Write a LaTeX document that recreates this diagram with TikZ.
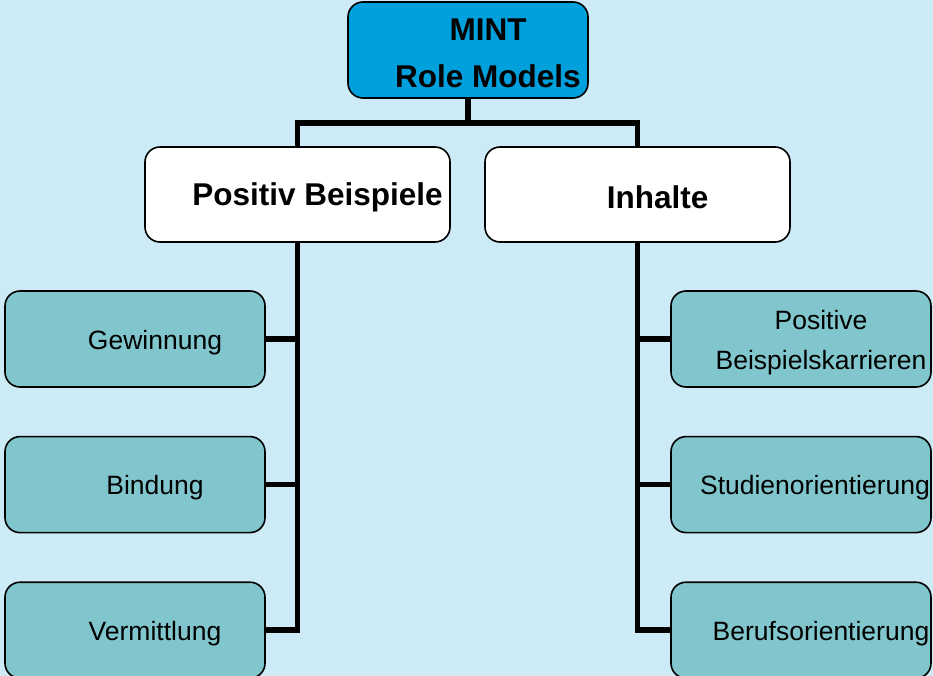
\documentclass[tikz,border=0pt]{standalone}
\usepackage{fontspec}
\setmainfont{Liberation Sans}
\usetikzlibrary{positioning}
\definecolor{skyback}{HTML}{CCEBF6}
\definecolor{mintblue}{HTML}{00A0DC}
\definecolor{leafteal}{HTML}{80C6CC}
\tikzset{
  box/.style={draw=black, line width=1.6pt, rounded corners=15pt, inner sep=0pt},
  rootbox/.style={box, fill=mintblue, minimum width=240pt, minimum height=96pt},
  midbox/.style={box, fill=white, minimum width=305pt, minimum height=95pt},
  leafbox/.style={box, fill=leafteal, minimum width=260pt, minimum height=96pt},
  bigtext/.style={xshift=20pt, yshift=-3pt, align=center, font=\fontsize{31.5}{47}\selectfont\bfseries},
  smalltext/.style={xshift=20pt, yshift=-3.5pt, align=center, font=\fontsize{26.5}{40}\selectfont},
  wire/.style={line width=5.5pt}
}

\begin{document}
\begin{tikzpicture}[x=1pt,y=-1pt]
\fill[skyback] (0,0) rectangle (933,676);
\useasboundingbox (0,0) rectangle (933,676);
\coordinate (fork) at (468,123);
% root and the two branches
\node[rootbox, label={[bigtext]center:MINT\\Role Models}] (mint) at (468,50) {};
\node[midbox, label={[bigtext]center:Positiv Beispiele}] (pos) at (297.5,194.5) {};
\node[midbox, label={[bigtext]center:Inhalte}] (inh) at (637.5,194.5) {};
% leaves
\node[leafbox, label={[smalltext]center:Gewinnung}] (gew) at (135,339) {};
\node[leafbox, label={[smalltext]center:Bindung}] (bin) [below=48pt of gew] {};
\node[leafbox, label={[smalltext]center:Vermittlung}] (ver) [below=48pt of bin] {};
\node[leafbox, label={[smalltext]center:Positive\\Beispielskarrieren}] (kar) at (801,339) {};
\node[leafbox, label={[smalltext, xshift=-6pt]center:Studienorientierung}] (stu) [below=48pt of kar] {};
\node[leafbox, label={[smalltext]center:Berufsorientierung}] (ber) [below=48pt of stu] {};
% connectors
\draw[wire] (mint.south) -- (fork);
\draw[wire] (pos.north) |- (fork) -| (inh.north);
\draw[wire] (pos.south) |- (gew.east);
\draw[wire] (pos.south) |- (bin.east);
\draw[wire] (pos.south) |- (ver.east);
\draw[wire] (inh.south) |- (kar.west);
\draw[wire] (inh.south) |- (stu.west);
\draw[wire] (inh.south) |- (ber.west);
\end{tikzpicture}
\end{document}
